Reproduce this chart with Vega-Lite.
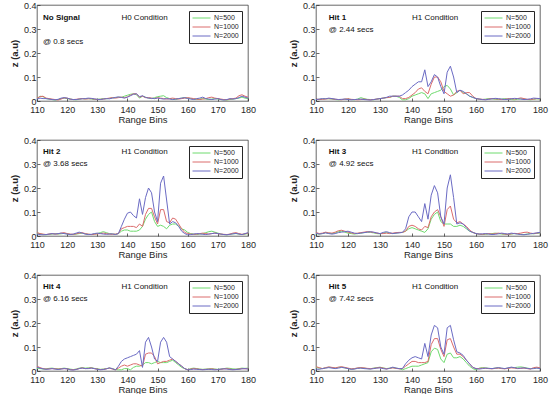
{
"$schema":"https://vega.github.io/schema/vega-lite/v6.json",
"padding":{"left":9,"top":0,"right":2,"bottom":0},
"config":{
 "font":"Liberation Sans",
 "view":{"stroke":"#262626","strokeWidth":0.7},
 "axis":{"grid":false,"domain":false,"tickColor":"#262626","tickSize":-3,"tickWidth":0.7,"labelFontSize":9,"labelColor":"#262626","titleColor":"#262626","titleFontSize":9.5,"titleFontWeight":"normal","labelFont":"Liberation Sans","titleFont":"Liberation Sans","labelFlush":false,"labelOverlap":false,"labelBound":false},
 "axisX":{"titlePadding":0,"labelPadding":7},
 "axisY":{"titlePadding":4,"labelPadding":4},
 "legend":{"orient":"top-right","offset":6,"symbolType":"stroke","symbolSize":324,"symbolStrokeWidth":1,"clipHeight":8,"strokeColor":"#262626","fillColor":"white","padding":3,"labelFontSize":7,"labelColor":"#262626","labelOffset":3,"rowPadding":1,"cornerRadius":0,"labelFont":"Liberation Sans"},
 "text":{"fontSize":8,"font":"Liberation Sans","color":"#111111","align":"left","baseline":"middle"},
 "line":{"strokeWidth":1}
},
"datasets":{
"p1":[
{"x":110,"g":0.01,"r":0.012,"b":0.008},{"x":111,"g":0.02,"r":0.018,"b":0.012},{"x":112,"g":0.018,"r":0.02,"b":0.01},{"x":113,"g":0.01,"r":0.012,"b":0.01},{"x":114,"g":0.008,"r":0.01,"b":0.008},{"x":115,"g":0.006,"r":0.008,"b":0.006},{"x":116,"g":0.004,"r":0.006,"b":0.005},{"x":117,"g":0.006,"r":0.004,"b":0.007},{"x":118,"g":0.01,"r":0.008,"b":0.012},{"x":119,"g":0.012,"r":0.013,"b":0.014},{"x":120,"g":0.01,"r":0.012,"b":0.012},{"x":121,"g":0.008,"r":0.008,"b":0.008},{"x":122,"g":0.006,"r":0.006,"b":0.006},{"x":123,"g":0.005,"r":0.007,"b":0.006},{"x":124,"g":0.007,"r":0.009,"b":0.008},{"x":125,"g":0.01,"r":0.01,"b":0.009},{"x":126,"g":0.009,"r":0.008,"b":0.01},{"x":127,"g":0.01,"r":0.009,"b":0.012},{"x":128,"g":0.008,"r":0.01,"b":0.011},{"x":129,"g":0.006,"r":0.008,"b":0.009},{"x":130,"g":0.007,"r":0.006,"b":0.007},{"x":131,"g":0.008,"r":0.007,"b":0.006},{"x":132,"g":0.01,"r":0.008,"b":0.008},{"x":133,"g":0.009,"r":0.01,"b":0.01},{"x":134,"g":0.011,"r":0.012,"b":0.009},{"x":135,"g":0.013,"r":0.014,"b":0.012},{"x":136,"g":0.014,"r":0.012,"b":0.015},{"x":137,"g":0.016,"r":0.014,"b":0.017},{"x":138,"g":0.015,"r":0.016,"b":0.015},{"x":139,"g":0.02,"r":0.014,"b":0.012},{"x":140,"g":0.024,"r":0.017,"b":0.016},{"x":141,"g":0.028,"r":0.024,"b":0.022},{"x":142,"g":0.03,"r":0.03,"b":0.028},{"x":143,"g":0.026,"r":0.03,"b":0.03},{"x":144,"g":0.012,"r":0.016,"b":0.018},{"x":145,"g":0.02,"r":0.02,"b":0.022},{"x":146,"g":0.016,"r":0.014,"b":0.015},{"x":147,"g":0.012,"r":0.014,"b":0.012},{"x":148,"g":0.01,"r":0.012,"b":0.011},{"x":149,"g":0.014,"r":0.01,"b":0.01},{"x":150,"g":0.018,"r":0.014,"b":0.012},{"x":151,"g":0.02,"r":0.012,"b":0.01},{"x":152,"g":0.022,"r":0.01,"b":0.008},{"x":153,"g":0.014,"r":0.008,"b":0.01},{"x":154,"g":0.01,"r":0.01,"b":0.008},{"x":155,"g":0.008,"r":0.012,"b":0.006},{"x":156,"g":0.006,"r":0.01,"b":0.008},{"x":157,"g":0.01,"r":0.008,"b":0.01},{"x":158,"g":0.012,"r":0.01,"b":0.012},{"x":159,"g":0.014,"r":0.012,"b":0.014},{"x":160,"g":0.012,"r":0.014,"b":0.01},{"x":161,"g":0.01,"r":0.012,"b":0.008},{"x":162,"g":0.008,"r":0.01,"b":0.006},{"x":163,"g":0.006,"r":0.008,"b":0.01},{"x":164,"g":0.008,"r":0.006,"b":0.012},{"x":165,"g":0.01,"r":0.008,"b":0.016},{"x":166,"g":0.008,"r":0.01,"b":0.01},{"x":167,"g":0.006,"r":0.014,"b":0.008},{"x":168,"g":0.008,"r":0.016,"b":0.006},{"x":169,"g":0.01,"r":0.012,"b":0.008},{"x":170,"g":0.008,"r":0.01,"b":0.01},{"x":171,"g":0.006,"r":0.008,"b":0.006},{"x":172,"g":0.005,"r":0.006,"b":0.004},{"x":173,"g":0.004,"r":0.005,"b":0.006},{"x":174,"g":0.006,"r":0.008,"b":0.01},{"x":175,"g":0.008,"r":0.01,"b":0.008},{"x":176,"g":0.01,"r":0.012,"b":0.01},{"x":177,"g":0.012,"r":0.022,"b":0.014},{"x":178,"g":0.016,"r":0.026,"b":0.02},{"x":179,"g":0.012,"r":0.02,"b":0.016},{"x":180,"g":0.01,"r":0.016,"b":0.012}
],
"p2":[
{"x":110,"g":0.006,"r":0.008,"b":0.006},{"x":111,"g":0.007,"r":0.006,"b":0.008},{"x":112,"g":0.008,"r":0.007,"b":0.01},{"x":113,"g":0.01,"r":0.008,"b":0.009},{"x":114,"g":0.009,"r":0.01,"b":0.012},{"x":115,"g":0.008,"r":0.009,"b":0.01},{"x":116,"g":0.006,"r":0.007,"b":0.008},{"x":117,"g":0.005,"r":0.006,"b":0.006},{"x":118,"g":0.006,"r":0.005,"b":0.007},{"x":119,"g":0.007,"r":0.008,"b":0.008},{"x":120,"g":0.008,"r":0.009,"b":0.006},{"x":121,"g":0.006,"r":0.007,"b":0.005},{"x":122,"g":0.005,"r":0.006,"b":0.006},{"x":123,"g":0.008,"r":0.005,"b":0.007},{"x":124,"g":0.014,"r":0.006,"b":0.008},{"x":125,"g":0.01,"r":0.008,"b":0.006},{"x":126,"g":0.007,"r":0.006,"b":0.005},{"x":127,"g":0.006,"r":0.005,"b":0.004},{"x":128,"g":0.005,"r":0.006,"b":0.006},{"x":129,"g":0.008,"r":0.008,"b":0.008},{"x":130,"g":0.01,"r":0.01,"b":0.01},{"x":131,"g":0.012,"r":0.012,"b":0.012},{"x":132,"g":0.014,"r":0.014,"b":0.015},{"x":133,"g":0.015,"r":0.015,"b":0.02},{"x":134,"g":0.02,"r":0.02,"b":0.02},{"x":135,"g":0.02,"r":0.02,"b":0.02},{"x":136,"g":0.015,"r":0.02,"b":0.02},{"x":137,"g":0.005,"r":0.01,"b":0.025},{"x":138,"g":0.005,"r":0.01,"b":0.035},{"x":139,"g":0.01,"r":0.015,"b":0.045},{"x":140,"g":0.02,"r":0.025,"b":0.06},{"x":141,"g":0.025,"r":0.035,"b":0.07},{"x":142,"g":0.03,"r":0.05,"b":0.08},{"x":143,"g":0.035,"r":0.055,"b":0.08},{"x":144,"g":0.03,"r":0.04,"b":0.13},{"x":145,"g":0.01,"r":0.03,"b":0.06},{"x":146,"g":0.03,"r":0.07,"b":0.08},{"x":147,"g":0.035,"r":0.1,"b":0.11},{"x":148,"g":0.04,"r":0.1,"b":0.1},{"x":149,"g":0.045,"r":0.08,"b":0.06},{"x":150,"g":0.06,"r":0.04,"b":0.03},{"x":151,"g":0.065,"r":0.03,"b":0.12},{"x":152,"g":0.05,"r":0.02,"b":0.145},{"x":153,"g":0.025,"r":0.025,"b":0.1},{"x":154,"g":0.035,"r":0.04,"b":0.035},{"x":155,"g":0.045,"r":0.045,"b":0.045},{"x":156,"g":0.035,"r":0.03,"b":0.04},{"x":157,"g":0.03,"r":0.035,"b":0.03},{"x":158,"g":0.02,"r":0.035,"b":0.02},{"x":159,"g":0.015,"r":0.02,"b":0.015},{"x":160,"g":0.01,"r":0.01,"b":0.01},{"x":161,"g":0.008,"r":0.008,"b":0.008},{"x":162,"g":0.006,"r":0.007,"b":0.006},{"x":163,"g":0.008,"r":0.006,"b":0.005},{"x":164,"g":0.01,"r":0.008,"b":0.007},{"x":165,"g":0.009,"r":0.01,"b":0.009},{"x":166,"g":0.007,"r":0.009,"b":0.011},{"x":167,"g":0.006,"r":0.008,"b":0.01},{"x":168,"g":0.008,"r":0.006,"b":0.008},{"x":169,"g":0.01,"r":0.007,"b":0.006},{"x":170,"g":0.008,"r":0.009,"b":0.007},{"x":171,"g":0.006,"r":0.01,"b":0.009},{"x":172,"g":0.005,"r":0.008,"b":0.011},{"x":173,"g":0.007,"r":0.01,"b":0.01},{"x":174,"g":0.009,"r":0.013,"b":0.008},{"x":175,"g":0.008,"r":0.01,"b":0.006},{"x":176,"g":0.006,"r":0.007,"b":0.007},{"x":177,"g":0.005,"r":0.006,"b":0.009},{"x":178,"g":0.007,"r":0.008,"b":0.012},{"x":179,"g":0.009,"r":0.01,"b":0.011},{"x":180,"g":0.008,"r":0.009,"b":0.01}
],
"p3":[
{"x":110,"g":0.012,"r":0.014,"b":0.008},{"x":111,"g":0.01,"r":0.01,"b":0.006},{"x":112,"g":0.006,"r":0.008,"b":0.005},{"x":113,"g":0.005,"r":0.006,"b":0.006},{"x":114,"g":0.007,"r":0.008,"b":0.008},{"x":115,"g":0.008,"r":0.01,"b":0.01},{"x":116,"g":0.01,"r":0.008,"b":0.008},{"x":117,"g":0.008,"r":0.009,"b":0.01},{"x":118,"g":0.009,"r":0.012,"b":0.012},{"x":119,"g":0.011,"r":0.014,"b":0.01},{"x":120,"g":0.009,"r":0.01,"b":0.008},{"x":121,"g":0.007,"r":0.008,"b":0.006},{"x":122,"g":0.006,"r":0.007,"b":0.008},{"x":123,"g":0.008,"r":0.009,"b":0.012},{"x":124,"g":0.01,"r":0.012,"b":0.016},{"x":125,"g":0.012,"r":0.014,"b":0.012},{"x":126,"g":0.009,"r":0.01,"b":0.008},{"x":127,"g":0.007,"r":0.008,"b":0.006},{"x":128,"g":0.006,"r":0.006,"b":0.007},{"x":129,"g":0.008,"r":0.007,"b":0.01},{"x":130,"g":0.01,"r":0.009,"b":0.012},{"x":131,"g":0.014,"r":0.01,"b":0.01},{"x":132,"g":0.018,"r":0.012,"b":0.008},{"x":133,"g":0.014,"r":0.01,"b":0.007},{"x":134,"g":0.01,"r":0.008,"b":0.008},{"x":135,"g":0.008,"r":0.007,"b":0.009},{"x":136,"g":0.007,"r":0.008,"b":0.006},{"x":137,"g":0.01,"r":0.01,"b":0.01},{"x":138,"g":0.02,"r":0.03,"b":0.04},{"x":139,"g":0.025,"r":0.035,"b":0.07},{"x":140,"g":0.025,"r":0.04,"b":0.095},{"x":141,"g":0.02,"r":0.04,"b":0.1},{"x":142,"g":0.02,"r":0.04,"b":0.085},{"x":143,"g":0.02,"r":0.035,"b":0.075},{"x":144,"g":0.025,"r":0.05,"b":0.155},{"x":145,"g":0.04,"r":0.04,"b":0.09},{"x":146,"g":0.07,"r":0.09,"b":0.16},{"x":147,"g":0.09,"r":0.115,"b":0.2},{"x":148,"g":0.1,"r":0.115,"b":0.18},{"x":149,"g":0.06,"r":0.08,"b":0.1},{"x":150,"g":0.04,"r":0.05,"b":0.06},{"x":151,"g":0.045,"r":0.11,"b":0.22},{"x":152,"g":0.04,"r":0.11,"b":0.25},{"x":153,"g":0.03,"r":0.06,"b":0.15},{"x":154,"g":0.045,"r":0.055,"b":0.05},{"x":155,"g":0.05,"r":0.075,"b":0.06},{"x":156,"g":0.05,"r":0.07,"b":0.055},{"x":157,"g":0.04,"r":0.05,"b":0.04},{"x":158,"g":0.03,"r":0.03,"b":0.02},{"x":159,"g":0.025,"r":0.015,"b":0.01},{"x":160,"g":0.015,"r":0.01,"b":0.005},{"x":161,"g":0.01,"r":0.008,"b":0.006},{"x":162,"g":0.008,"r":0.007,"b":0.008},{"x":163,"g":0.006,"r":0.008,"b":0.01},{"x":164,"g":0.008,"r":0.01,"b":0.009},{"x":165,"g":0.01,"r":0.012,"b":0.007},{"x":166,"g":0.014,"r":0.01,"b":0.006},{"x":167,"g":0.018,"r":0.008,"b":0.008},{"x":168,"g":0.02,"r":0.01,"b":0.01},{"x":169,"g":0.016,"r":0.012,"b":0.012},{"x":170,"g":0.012,"r":0.01,"b":0.01},{"x":171,"g":0.008,"r":0.008,"b":0.008},{"x":172,"g":0.006,"r":0.007,"b":0.006},{"x":173,"g":0.005,"r":0.006,"b":0.005},{"x":174,"g":0.007,"r":0.008,"b":0.007},{"x":175,"g":0.009,"r":0.012,"b":0.009},{"x":176,"g":0.01,"r":0.014,"b":0.011},{"x":177,"g":0.008,"r":0.01,"b":0.008},{"x":178,"g":0.006,"r":0.007,"b":0.006},{"x":179,"g":0.008,"r":0.009,"b":0.01},{"x":180,"g":0.01,"r":0.012,"b":0.014}
],
"p4":[
{"x":110,"g":0.01,"r":0.015,"b":0.012},{"x":111,"g":0.008,"r":0.01,"b":0.008},{"x":112,"g":0.01,"r":0.012,"b":0.01},{"x":113,"g":0.014,"r":0.016,"b":0.013},{"x":114,"g":0.012,"r":0.013,"b":0.01},{"x":115,"g":0.01,"r":0.012,"b":0.008},{"x":116,"g":0.013,"r":0.016,"b":0.01},{"x":117,"g":0.018,"r":0.022,"b":0.014},{"x":118,"g":0.02,"r":0.024,"b":0.016},{"x":119,"g":0.016,"r":0.02,"b":0.018},{"x":120,"g":0.012,"r":0.016,"b":0.02},{"x":121,"g":0.01,"r":0.013,"b":0.016},{"x":122,"g":0.008,"r":0.01,"b":0.012},{"x":123,"g":0.01,"r":0.012,"b":0.01},{"x":124,"g":0.012,"r":0.014,"b":0.012},{"x":125,"g":0.014,"r":0.016,"b":0.014},{"x":126,"g":0.016,"r":0.018,"b":0.016},{"x":127,"g":0.015,"r":0.017,"b":0.018},{"x":128,"g":0.013,"r":0.015,"b":0.016},{"x":129,"g":0.01,"r":0.012,"b":0.013},{"x":130,"g":0.009,"r":0.01,"b":0.01},{"x":131,"g":0.012,"r":0.01,"b":0.015},{"x":132,"g":0.014,"r":0.012,"b":0.018},{"x":133,"g":0.012,"r":0.01,"b":0.014},{"x":134,"g":0.01,"r":0.012,"b":0.01},{"x":135,"g":0.012,"r":0.014,"b":0.012},{"x":136,"g":0.014,"r":0.015,"b":0.013},{"x":137,"g":0.015,"r":0.015,"b":0.015},{"x":138,"g":0.02,"r":0.02,"b":0.03},{"x":139,"g":0.03,"r":0.04,"b":0.08},{"x":140,"g":0.035,"r":0.045,"b":0.1},{"x":141,"g":0.03,"r":0.04,"b":0.1},{"x":142,"g":0.025,"r":0.03,"b":0.08},{"x":143,"g":0.02,"r":0.025,"b":0.06},{"x":144,"g":0.015,"r":0.04,"b":0.135},{"x":145,"g":0.03,"r":0.035,"b":0.07},{"x":146,"g":0.07,"r":0.08,"b":0.17},{"x":147,"g":0.09,"r":0.1,"b":0.21},{"x":148,"g":0.1,"r":0.11,"b":0.18},{"x":149,"g":0.06,"r":0.08,"b":0.08},{"x":150,"g":0.05,"r":0.04,"b":0.05},{"x":151,"g":0.05,"r":0.11,"b":0.2},{"x":152,"g":0.05,"r":0.125,"b":0.255},{"x":153,"g":0.04,"r":0.07,"b":0.16},{"x":154,"g":0.04,"r":0.055,"b":0.05},{"x":155,"g":0.045,"r":0.06,"b":0.055},{"x":156,"g":0.04,"r":0.05,"b":0.05},{"x":157,"g":0.03,"r":0.04,"b":0.035},{"x":158,"g":0.02,"r":0.025,"b":0.02},{"x":159,"g":0.015,"r":0.015,"b":0.015},{"x":160,"g":0.01,"r":0.01,"b":0.01},{"x":161,"g":0.008,"r":0.008,"b":0.008},{"x":162,"g":0.006,"r":0.007,"b":0.009},{"x":163,"g":0.007,"r":0.009,"b":0.01},{"x":164,"g":0.009,"r":0.01,"b":0.008},{"x":165,"g":0.01,"r":0.008,"b":0.006},{"x":166,"g":0.012,"r":0.01,"b":0.007},{"x":167,"g":0.01,"r":0.012,"b":0.009},{"x":168,"g":0.008,"r":0.01,"b":0.012},{"x":169,"g":0.007,"r":0.008,"b":0.01},{"x":170,"g":0.006,"r":0.007,"b":0.008},{"x":171,"g":0.008,"r":0.009,"b":0.012},{"x":172,"g":0.01,"r":0.011,"b":0.01},{"x":173,"g":0.009,"r":0.01,"b":0.008},{"x":174,"g":0.007,"r":0.012,"b":0.006},{"x":175,"g":0.006,"r":0.015,"b":0.005},{"x":176,"g":0.008,"r":0.016,"b":0.007},{"x":177,"g":0.01,"r":0.012,"b":0.009},{"x":178,"g":0.009,"r":0.01,"b":0.011},{"x":179,"g":0.011,"r":0.012,"b":0.013},{"x":180,"g":0.012,"r":0.014,"b":0.015}
],
"p5":[
{"x":110,"g":0.012,"r":0.02,"b":0.016},{"x":111,"g":0.01,"r":0.014,"b":0.012},{"x":112,"g":0.008,"r":0.01,"b":0.009},{"x":113,"g":0.009,"r":0.008,"b":0.007},{"x":114,"g":0.011,"r":0.009,"b":0.008},{"x":115,"g":0.012,"r":0.01,"b":0.01},{"x":116,"g":0.01,"r":0.009,"b":0.008},{"x":117,"g":0.009,"r":0.008,"b":0.006},{"x":118,"g":0.01,"r":0.009,"b":0.008},{"x":119,"g":0.012,"r":0.01,"b":0.01},{"x":120,"g":0.01,"r":0.009,"b":0.009},{"x":121,"g":0.008,"r":0.006,"b":0.005},{"x":122,"g":0.006,"r":0.005,"b":0.004},{"x":123,"g":0.008,"r":0.007,"b":0.006},{"x":124,"g":0.012,"r":0.01,"b":0.01},{"x":125,"g":0.014,"r":0.013,"b":0.012},{"x":126,"g":0.012,"r":0.01,"b":0.01},{"x":127,"g":0.013,"r":0.011,"b":0.01},{"x":128,"g":0.014,"r":0.013,"b":0.012},{"x":129,"g":0.011,"r":0.01,"b":0.01},{"x":130,"g":0.009,"r":0.008,"b":0.007},{"x":131,"g":0.007,"r":0.006,"b":0.005},{"x":132,"g":0.008,"r":0.007,"b":0.006},{"x":133,"g":0.01,"r":0.009,"b":0.009},{"x":134,"g":0.012,"r":0.012,"b":0.013},{"x":135,"g":0.01,"r":0.008,"b":0.01},{"x":136,"g":0.006,"r":0.005,"b":0.004},{"x":137,"g":0.005,"r":0.012,"b":0.02},{"x":138,"g":0.005,"r":0.02,"b":0.04},{"x":139,"g":0.01,"r":0.025,"b":0.05},{"x":140,"g":0.01,"r":0.02,"b":0.055},{"x":141,"g":0.005,"r":0.025,"b":0.06},{"x":142,"g":0.015,"r":0.03,"b":0.065},{"x":143,"g":0.02,"r":0.03,"b":0.07},{"x":144,"g":0.02,"r":0.025,"b":0.085},{"x":145,"g":0.025,"r":0.02,"b":0.015},{"x":146,"g":0.035,"r":0.07,"b":0.12},{"x":147,"g":0.035,"r":0.075,"b":0.14},{"x":148,"g":0.03,"r":0.075,"b":0.1},{"x":149,"g":0.035,"r":0.06,"b":0.05},{"x":150,"g":0.04,"r":0.03,"b":0.04},{"x":151,"g":0.035,"r":0.035,"b":0.12},{"x":152,"g":0.035,"r":0.04,"b":0.14},{"x":153,"g":0.035,"r":0.04,"b":0.12},{"x":154,"g":0.04,"r":0.045,"b":0.06},{"x":155,"g":0.045,"r":0.05,"b":0.05},{"x":156,"g":0.035,"r":0.04,"b":0.04},{"x":157,"g":0.025,"r":0.03,"b":0.03},{"x":158,"g":0.015,"r":0.02,"b":0.02},{"x":159,"g":0.01,"r":0.01,"b":0.01},{"x":160,"g":0.005,"r":0.005,"b":0.005},{"x":161,"g":0.01,"r":0.008,"b":0.006},{"x":162,"g":0.012,"r":0.01,"b":0.008},{"x":163,"g":0.01,"r":0.009,"b":0.007},{"x":164,"g":0.008,"r":0.007,"b":0.006},{"x":165,"g":0.007,"r":0.006,"b":0.005},{"x":166,"g":0.008,"r":0.007,"b":0.006},{"x":167,"g":0.009,"r":0.008,"b":0.007},{"x":168,"g":0.01,"r":0.009,"b":0.006},{"x":169,"g":0.008,"r":0.007,"b":0.005},{"x":170,"g":0.007,"r":0.006,"b":0.006},{"x":171,"g":0.008,"r":0.007,"b":0.008},{"x":172,"g":0.01,"r":0.009,"b":0.009},{"x":173,"g":0.012,"r":0.01,"b":0.008},{"x":174,"g":0.011,"r":0.008,"b":0.006},{"x":175,"g":0.009,"r":0.006,"b":0.005},{"x":176,"g":0.008,"r":0.007,"b":0.006},{"x":177,"g":0.01,"r":0.008,"b":0.007},{"x":178,"g":0.012,"r":0.01,"b":0.009},{"x":179,"g":0.011,"r":0.009,"b":0.01},{"x":180,"g":0.012,"r":0.01,"b":0.008}
],
"p6":[
{"x":110,"g":0.015,"r":0.018,"b":0.008},{"x":111,"g":0.012,"r":0.014,"b":0.007},{"x":112,"g":0.01,"r":0.01,"b":0.01},{"x":113,"g":0.013,"r":0.014,"b":0.012},{"x":114,"g":0.016,"r":0.017,"b":0.014},{"x":115,"g":0.014,"r":0.015,"b":0.012},{"x":116,"g":0.012,"r":0.013,"b":0.01},{"x":117,"g":0.015,"r":0.016,"b":0.012},{"x":118,"g":0.016,"r":0.018,"b":0.015},{"x":119,"g":0.013,"r":0.015,"b":0.013},{"x":120,"g":0.01,"r":0.012,"b":0.01},{"x":121,"g":0.008,"r":0.009,"b":0.007},{"x":122,"g":0.009,"r":0.01,"b":0.008},{"x":123,"g":0.012,"r":0.013,"b":0.011},{"x":124,"g":0.013,"r":0.014,"b":0.012},{"x":125,"g":0.012,"r":0.013,"b":0.01},{"x":126,"g":0.01,"r":0.011,"b":0.009},{"x":127,"g":0.009,"r":0.01,"b":0.008},{"x":128,"g":0.012,"r":0.011,"b":0.01},{"x":129,"g":0.014,"r":0.013,"b":0.012},{"x":130,"g":0.016,"r":0.015,"b":0.013},{"x":131,"g":0.013,"r":0.012,"b":0.01},{"x":132,"g":0.01,"r":0.009,"b":0.008},{"x":133,"g":0.012,"r":0.011,"b":0.011},{"x":134,"g":0.014,"r":0.013,"b":0.016},{"x":135,"g":0.012,"r":0.011,"b":0.012},{"x":136,"g":0.01,"r":0.009,"b":0.01},{"x":137,"g":0.005,"r":0.01,"b":0.01},{"x":138,"g":0.01,"r":0.02,"b":0.03},{"x":139,"g":0.015,"r":0.03,"b":0.045},{"x":140,"g":0.02,"r":0.04,"b":0.055},{"x":141,"g":0.02,"r":0.04,"b":0.06},{"x":142,"g":0.02,"r":0.035,"b":0.055},{"x":143,"g":0.025,"r":0.035,"b":0.05},{"x":144,"g":0.03,"r":0.035,"b":0.115},{"x":145,"g":0.035,"r":0.04,"b":0.06},{"x":146,"g":0.08,"r":0.11,"b":0.15},{"x":147,"g":0.095,"r":0.135,"b":0.19},{"x":148,"g":0.09,"r":0.135,"b":0.18},{"x":149,"g":0.05,"r":0.09,"b":0.1},{"x":150,"g":0.035,"r":0.06,"b":0.07},{"x":151,"g":0.07,"r":0.13,"b":0.18},{"x":152,"g":0.075,"r":0.135,"b":0.19},{"x":153,"g":0.055,"r":0.1,"b":0.13},{"x":154,"g":0.055,"r":0.07,"b":0.08},{"x":155,"g":0.06,"r":0.07,"b":0.075},{"x":156,"g":0.05,"r":0.06,"b":0.065},{"x":157,"g":0.035,"r":0.045,"b":0.045},{"x":158,"g":0.02,"r":0.03,"b":0.03},{"x":159,"g":0.01,"r":0.015,"b":0.015},{"x":160,"g":0.005,"r":0.01,"b":0.01},{"x":161,"g":0.012,"r":0.01,"b":0.008},{"x":162,"g":0.014,"r":0.012,"b":0.01},{"x":163,"g":0.013,"r":0.011,"b":0.012},{"x":164,"g":0.011,"r":0.01,"b":0.011},{"x":165,"g":0.01,"r":0.009,"b":0.01},{"x":166,"g":0.012,"r":0.011,"b":0.012},{"x":167,"g":0.013,"r":0.012,"b":0.014},{"x":168,"g":0.011,"r":0.01,"b":0.012},{"x":169,"g":0.01,"r":0.009,"b":0.01},{"x":170,"g":0.012,"r":0.011,"b":0.013},{"x":171,"g":0.015,"r":0.013,"b":0.016},{"x":172,"g":0.014,"r":0.012,"b":0.014},{"x":173,"g":0.016,"r":0.01,"b":0.011},{"x":174,"g":0.017,"r":0.011,"b":0.012},{"x":175,"g":0.015,"r":0.012,"b":0.013},{"x":176,"g":0.012,"r":0.01,"b":0.011},{"x":177,"g":0.01,"r":0.008,"b":0.009},{"x":178,"g":0.011,"r":0.014,"b":0.01},{"x":179,"g":0.013,"r":0.016,"b":0.012},{"x":180,"g":0.012,"r":0.013,"b":0.01}
]
},
"spacing":11,
"resolve":{"scale":{"color":"independent"},"legend":{"color":"independent"}},
"vconcat":[
{"hconcat":[
 {"width":211,"height":96,"data":{"name":"p1"},"layer":[
  {"transform":[{"fold":["g","r","b"],"as":["s","z"]}],"mark":{"type":"line"},"encoding":{
   "x":{"field":"x","type":"quantitative","scale":{"domain":[110,180],"nice":false},"axis":{"values":[110,120,130,140,150,160,170,180],"labelOverlap":false,"title":"Range Bins","titleFontWeight":"normal"}},
   "y":{"field":"z","type":"quantitative","scale":{"domain":[0,0.4]},"axis":{"values":[0,0.1,0.2,0.3,0.4],"labelOverlap":false,"format":"~g","title":"z (a.u)","titleFontWeight":"bold"}},
   "color":{"field":"s","type":"nominal","scale":{"domain":["g","r","b"],"range":["#6edb6e","#db6c6c","#6b6bc4"]},"legend":{"title":null,"labelExpr":"datum.label=='g'?'N=500':datum.label=='r'?'N=1000':'N=2000'"}}}},
  {"data":{"values":[{}]},"mark":{"type":"text","fontWeight":"bold"},"encoding":{"x":{"datum":112,"axis":{"values":[110,120,130,140,150,160,170,180],"labelOverlap":false,"title":"Range Bins","titleFontWeight":"normal"}},"y":{"datum":0.345,"axis":{"values":[0,0.1,0.2,0.3,0.4],"labelOverlap":false,"format":"~g","title":"z (a.u)","titleFontWeight":"bold"}},"text":{"value":"No Signal"}}},
  {"data":{"values":[{}]},"mark":{"type":"text"},"encoding":{"x":{"datum":138,"axis":{"values":[110,120,130,140,150,160,170,180],"labelOverlap":false,"title":"Range Bins","titleFontWeight":"normal"}},"y":{"datum":0.345,"axis":{"values":[0,0.1,0.2,0.3,0.4],"labelOverlap":false,"format":"~g","title":"z (a.u)","titleFontWeight":"bold"}},"text":{"value":"H0 Condition"}}},
  {"data":{"values":[{}]},"mark":{"type":"text"},"encoding":{"x":{"datum":112,"axis":{"values":[110,120,130,140,150,160,170,180],"labelOverlap":false,"title":"Range Bins","titleFontWeight":"normal"}},"y":{"datum":0.246,"axis":{"values":[0,0.1,0.2,0.3,0.4],"labelOverlap":false,"format":"~g","title":"z (a.u)","titleFontWeight":"bold"}},"text":{"value":"@ 0.8 secs"}}}
 ]},
 {"width":224,"height":96,"data":{"name":"p2"},"layer":[
  {"transform":[{"fold":["g","r","b"],"as":["s","z"]}],"mark":{"type":"line"},"encoding":{
   "x":{"field":"x","type":"quantitative","scale":{"domain":[110,180],"nice":false},"axis":{"values":[110,120,130,140,150,160,170,180],"labelOverlap":false,"title":"Range Bins","titleFontWeight":"normal"}},
   "y":{"field":"z","type":"quantitative","scale":{"domain":[0,0.4]},"axis":{"values":[0,0.1,0.2,0.3,0.4],"labelOverlap":false,"format":"~g","title":"z (a.u)","titleFontWeight":"bold"}},
   "color":{"field":"s","type":"nominal","scale":{"domain":["g","r","b"],"range":["#6edb6e","#db6c6c","#6b6bc4"]},"legend":{"title":null,"labelExpr":"datum.label=='g'?'N=500':datum.label=='r'?'N=1000':'N=2000'"}}}},
  {"data":{"values":[{}]},"mark":{"type":"text","fontWeight":"bold"},"encoding":{"x":{"datum":114,"axis":{"values":[110,120,130,140,150,160,170,180],"labelOverlap":false,"title":"Range Bins","titleFontWeight":"normal"}},"y":{"datum":0.345,"axis":{"values":[0,0.1,0.2,0.3,0.4],"labelOverlap":false,"format":"~g","title":"z (a.u)","titleFontWeight":"bold"}},"text":{"value":"Hit 1"}}},
  {"data":{"values":[{}]},"mark":{"type":"text"},"encoding":{"x":{"datum":140,"axis":{"values":[110,120,130,140,150,160,170,180],"labelOverlap":false,"title":"Range Bins","titleFontWeight":"normal"}},"y":{"datum":0.345,"axis":{"values":[0,0.1,0.2,0.3,0.4],"labelOverlap":false,"format":"~g","title":"z (a.u)","titleFontWeight":"bold"}},"text":{"value":"H1 Condition"}}},
  {"data":{"values":[{}]},"mark":{"type":"text"},"encoding":{"x":{"datum":114,"axis":{"values":[110,120,130,140,150,160,170,180],"labelOverlap":false,"title":"Range Bins","titleFontWeight":"normal"}},"y":{"datum":0.296,"axis":{"values":[0,0.1,0.2,0.3,0.4],"labelOverlap":false,"format":"~g","title":"z (a.u)","titleFontWeight":"bold"}},"text":{"value":"@ 2.44 secs"}}}
 ]}
],"spacing":32,"resolve":{"scale":{"color":"independent"},"legend":{"color":"independent"}}},
{"hconcat":[
 {"width":211,"height":96,"data":{"name":"p3"},"layer":[
  {"transform":[{"fold":["g","r","b"],"as":["s","z"]}],"mark":{"type":"line"},"encoding":{
   "x":{"field":"x","type":"quantitative","scale":{"domain":[110,180],"nice":false},"axis":{"values":[110,120,130,140,150,160,170,180],"labelOverlap":false,"title":"Range Bins","titleFontWeight":"normal"}},
   "y":{"field":"z","type":"quantitative","scale":{"domain":[0,0.4]},"axis":{"values":[0,0.1,0.2,0.3,0.4],"labelOverlap":false,"format":"~g","title":"z (a.u)","titleFontWeight":"bold"}},
   "color":{"field":"s","type":"nominal","scale":{"domain":["g","r","b"],"range":["#6edb6e","#db6c6c","#6b6bc4"]},"legend":{"title":null,"labelExpr":"datum.label=='g'?'N=500':datum.label=='r'?'N=1000':'N=2000'"}}}},
  {"data":{"values":[{}]},"mark":{"type":"text","fontWeight":"bold"},"encoding":{"x":{"datum":112,"axis":{"values":[110,120,130,140,150,160,170,180],"labelOverlap":false,"title":"Range Bins","titleFontWeight":"normal"}},"y":{"datum":0.35,"axis":{"values":[0,0.1,0.2,0.3,0.4],"labelOverlap":false,"format":"~g","title":"z (a.u)","titleFontWeight":"bold"}},"text":{"value":"Hit 2"}}},
  {"data":{"values":[{}]},"mark":{"type":"text"},"encoding":{"x":{"datum":138,"axis":{"values":[110,120,130,140,150,160,170,180],"labelOverlap":false,"title":"Range Bins","titleFontWeight":"normal"}},"y":{"datum":0.35,"axis":{"values":[0,0.1,0.2,0.3,0.4],"labelOverlap":false,"format":"~g","title":"z (a.u)","titleFontWeight":"bold"}},"text":{"value":"H1 Condition"}}},
  {"data":{"values":[{}]},"mark":{"type":"text"},"encoding":{"x":{"datum":112,"axis":{"values":[110,120,130,140,150,160,170,180],"labelOverlap":false,"title":"Range Bins","titleFontWeight":"normal"}},"y":{"datum":0.3,"axis":{"values":[0,0.1,0.2,0.3,0.4],"labelOverlap":false,"format":"~g","title":"z (a.u)","titleFontWeight":"bold"}},"text":{"value":"@ 3.68 secs"}}}
 ]},
 {"width":224,"height":96,"data":{"name":"p4"},"layer":[
  {"transform":[{"fold":["g","r","b"],"as":["s","z"]}],"mark":{"type":"line"},"encoding":{
   "x":{"field":"x","type":"quantitative","scale":{"domain":[110,180],"nice":false},"axis":{"values":[110,120,130,140,150,160,170,180],"labelOverlap":false,"title":"Range Bins","titleFontWeight":"normal"}},
   "y":{"field":"z","type":"quantitative","scale":{"domain":[0,0.4]},"axis":{"values":[0,0.1,0.2,0.3,0.4],"labelOverlap":false,"format":"~g","title":"z (a.u)","titleFontWeight":"bold"}},
   "color":{"field":"s","type":"nominal","scale":{"domain":["g","r","b"],"range":["#6edb6e","#db6c6c","#6b6bc4"]},"legend":{"title":null,"labelExpr":"datum.label=='g'?'N=500':datum.label=='r'?'N=1000':'N=2000'"}}}},
  {"data":{"values":[{}]},"mark":{"type":"text","fontWeight":"bold"},"encoding":{"x":{"datum":114,"axis":{"values":[110,120,130,140,150,160,170,180],"labelOverlap":false,"title":"Range Bins","titleFontWeight":"normal"}},"y":{"datum":0.35,"axis":{"values":[0,0.1,0.2,0.3,0.4],"labelOverlap":false,"format":"~g","title":"z (a.u)","titleFontWeight":"bold"}},"text":{"value":"Hit 3"}}},
  {"data":{"values":[{}]},"mark":{"type":"text"},"encoding":{"x":{"datum":140,"axis":{"values":[110,120,130,140,150,160,170,180],"labelOverlap":false,"title":"Range Bins","titleFontWeight":"normal"}},"y":{"datum":0.35,"axis":{"values":[0,0.1,0.2,0.3,0.4],"labelOverlap":false,"format":"~g","title":"z (a.u)","titleFontWeight":"bold"}},"text":{"value":"H1 Condition"}}},
  {"data":{"values":[{}]},"mark":{"type":"text"},"encoding":{"x":{"datum":114,"axis":{"values":[110,120,130,140,150,160,170,180],"labelOverlap":false,"title":"Range Bins","titleFontWeight":"normal"}},"y":{"datum":0.3,"axis":{"values":[0,0.1,0.2,0.3,0.4],"labelOverlap":false,"format":"~g","title":"z (a.u)","titleFontWeight":"bold"}},"text":{"value":"@ 4.92 secs"}}}
 ]}
],"spacing":32,"resolve":{"scale":{"color":"independent"},"legend":{"color":"independent"}}},
{"hconcat":[
 {"width":211,"height":96,"data":{"name":"p5"},"layer":[
  {"transform":[{"fold":["g","r","b"],"as":["s","z"]}],"mark":{"type":"line"},"encoding":{
   "x":{"field":"x","type":"quantitative","scale":{"domain":[110,180],"nice":false},"axis":{"values":[110,120,130,140,150,160,170,180],"labelOverlap":false,"title":"Range Bins","titleFontWeight":"normal"}},
   "y":{"field":"z","type":"quantitative","scale":{"domain":[0,0.4]},"axis":{"values":[0,0.1,0.2,0.3,0.4],"labelOverlap":false,"format":"~g","title":"z (a.u)","titleFontWeight":"bold"}},
   "color":{"field":"s","type":"nominal","scale":{"domain":["g","r","b"],"range":["#6edb6e","#db6c6c","#6b6bc4"]},"legend":{"title":null,"labelExpr":"datum.label=='g'?'N=500':datum.label=='r'?'N=1000':'N=2000'"}}}},
  {"data":{"values":[{}]},"mark":{"type":"text","fontWeight":"bold"},"encoding":{"x":{"datum":112,"axis":{"values":[110,120,130,140,150,160,170,180],"labelOverlap":false,"title":"Range Bins","titleFontWeight":"normal"}},"y":{"datum":0.35,"axis":{"values":[0,0.1,0.2,0.3,0.4],"labelOverlap":false,"format":"~g","title":"z (a.u)","titleFontWeight":"bold"}},"text":{"value":"Hit 4"}}},
  {"data":{"values":[{}]},"mark":{"type":"text"},"encoding":{"x":{"datum":138,"axis":{"values":[110,120,130,140,150,160,170,180],"labelOverlap":false,"title":"Range Bins","titleFontWeight":"normal"}},"y":{"datum":0.35,"axis":{"values":[0,0.1,0.2,0.3,0.4],"labelOverlap":false,"format":"~g","title":"z (a.u)","titleFontWeight":"bold"}},"text":{"value":"H1 Condition"}}},
  {"data":{"values":[{}]},"mark":{"type":"text"},"encoding":{"x":{"datum":112,"axis":{"values":[110,120,130,140,150,160,170,180],"labelOverlap":false,"title":"Range Bins","titleFontWeight":"normal"}},"y":{"datum":0.3,"axis":{"values":[0,0.1,0.2,0.3,0.4],"labelOverlap":false,"format":"~g","title":"z (a.u)","titleFontWeight":"bold"}},"text":{"value":"@ 6.16 secs"}}}
 ]},
 {"width":224,"height":96,"data":{"name":"p6"},"layer":[
  {"transform":[{"fold":["g","r","b"],"as":["s","z"]}],"mark":{"type":"line"},"encoding":{
   "x":{"field":"x","type":"quantitative","scale":{"domain":[110,180],"nice":false},"axis":{"values":[110,120,130,140,150,160,170,180],"labelOverlap":false,"title":"Range Bins","titleFontWeight":"normal"}},
   "y":{"field":"z","type":"quantitative","scale":{"domain":[0,0.4]},"axis":{"values":[0,0.1,0.2,0.3,0.4],"labelOverlap":false,"format":"~g","title":"z (a.u)","titleFontWeight":"bold"}},
   "color":{"field":"s","type":"nominal","scale":{"domain":["g","r","b"],"range":["#6edb6e","#db6c6c","#6b6bc4"]},"legend":{"title":null,"labelExpr":"datum.label=='g'?'N=500':datum.label=='r'?'N=1000':'N=2000'"}}}},
  {"data":{"values":[{}]},"mark":{"type":"text","fontWeight":"bold"},"encoding":{"x":{"datum":114,"axis":{"values":[110,120,130,140,150,160,170,180],"labelOverlap":false,"title":"Range Bins","titleFontWeight":"normal"}},"y":{"datum":0.35,"axis":{"values":[0,0.1,0.2,0.3,0.4],"labelOverlap":false,"format":"~g","title":"z (a.u)","titleFontWeight":"bold"}},"text":{"value":"Hit 5"}}},
  {"data":{"values":[{}]},"mark":{"type":"text"},"encoding":{"x":{"datum":140,"axis":{"values":[110,120,130,140,150,160,170,180],"labelOverlap":false,"title":"Range Bins","titleFontWeight":"normal"}},"y":{"datum":0.35,"axis":{"values":[0,0.1,0.2,0.3,0.4],"labelOverlap":false,"format":"~g","title":"z (a.u)","titleFontWeight":"bold"}},"text":{"value":"H1 Condition"}}},
  {"data":{"values":[{}]},"mark":{"type":"text"},"encoding":{"x":{"datum":114,"axis":{"values":[110,120,130,140,150,160,170,180],"labelOverlap":false,"title":"Range Bins","titleFontWeight":"normal"}},"y":{"datum":0.3,"axis":{"values":[0,0.1,0.2,0.3,0.4],"labelOverlap":false,"format":"~g","title":"z (a.u)","titleFontWeight":"bold"}},"text":{"value":"@ 7.42 secs"}}}
 ]}
],"spacing":32,"resolve":{"scale":{"color":"independent"},"legend":{"color":"independent"}}}
]
}
